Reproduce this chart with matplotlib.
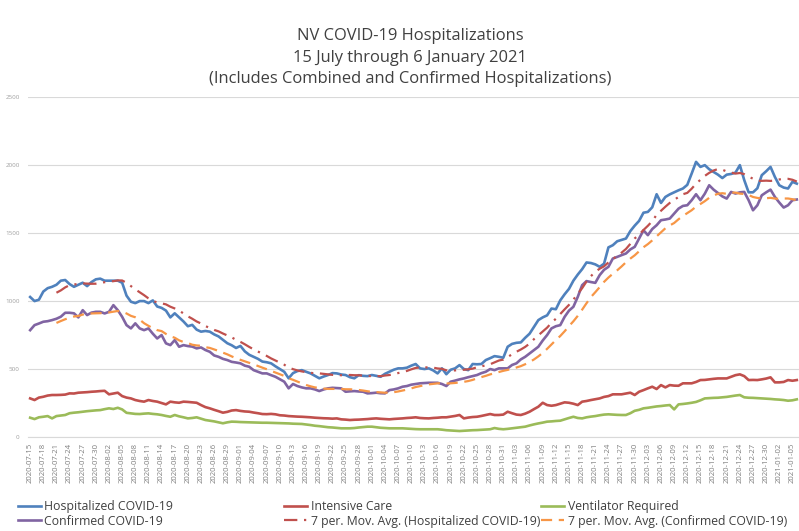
import matplotlib
matplotlib.use("Agg")
import matplotlib.pyplot as plt
import pandas as pd

dates = pd.date_range("2020-07-15", "2021-01-06", freq="D")

hospitalized = [1030, 1000, 1010, 1070, 1095, 1105, 1120, 1150, 1155, 1125,
                1105, 1120, 1135, 1110, 1140, 1160, 1165, 1150, 1150, 1150,
                1150, 1135, 1040, 995, 985, 1000, 1000, 985, 1005, 960,
                950, 930, 880, 910, 880, 850, 815, 825, 790, 775,
                780, 775, 755, 740, 715, 690, 675, 655, 670, 630,
                605, 590, 575, 555, 550, 542, 520, 500, 480, 432,
                470, 485, 492, 480, 468, 450, 432, 445, 456, 470,
                468, 460, 456, 440, 432, 455, 450, 448, 456, 450,
                443, 465, 480, 495, 505, 505, 510, 525, 537, 505,
                500, 505, 490, 468, 505, 462, 495, 505, 529, 500,
                492, 537, 535, 537, 566, 580, 595, 590, 583, 664,
                685, 693, 696, 730, 760, 810, 860, 880, 895, 945,
                940, 1005, 1050, 1090, 1150, 1195, 1235, 1284, 1280, 1270,
                1252, 1275, 1395, 1411, 1440, 1450, 1460, 1515, 1555, 1590,
                1650, 1656, 1690, 1786, 1722, 1766, 1785, 1800, 1815, 1828,
                1855, 1938, 2024, 1987, 2000, 1970, 1950, 1930, 1905, 1930,
                1935, 1945, 2000, 1890, 1800, 1800, 1830, 1926, 1955, 1987,
                1913, 1852, 1835, 1828, 1877, 1864]

confirmed = [786, 823, 835, 848, 852, 860, 870, 885, 914, 914,
             910, 880, 933, 897, 915, 921, 921, 909, 921, 970,
             933, 884, 823, 799, 836, 799, 786, 799, 760, 725,
             750, 689, 676, 713, 664, 676, 669, 665, 652, 659,
             640, 627, 600, 590, 575, 566, 553, 548, 542, 525,
             517, 492, 480, 468, 468, 455, 443, 425, 407, 358,
             390, 375, 365, 358, 358, 350, 338, 350, 358, 362,
             360, 358, 333, 336, 338, 335, 333, 321, 323, 326,
             322, 321, 345, 350, 358, 370, 375, 385, 390, 395,
             397, 399, 399, 399, 390, 375, 407, 415, 424, 431,
             440, 448, 456, 470, 480, 500, 492, 505, 505, 505,
             530, 542, 571, 590, 615, 640, 664, 710, 750, 799,
             815, 823, 884, 930, 958, 1031, 1117, 1147, 1140, 1134,
             1191, 1230, 1252, 1313, 1325, 1338, 1350, 1380, 1399, 1460,
             1521, 1485, 1530, 1558, 1595, 1600, 1607, 1644, 1680, 1700,
             1705, 1742, 1786, 1742, 1790, 1852, 1820, 1795, 1770, 1754,
             1803, 1791, 1800, 1803, 1742, 1668, 1705, 1778, 1800, 1820,
             1766, 1725, 1688, 1705, 1742, 1747]

intensive_care = [284, 272, 290, 296, 305, 309, 309, 310, 312, 321,
                  320, 326, 328, 330, 333, 335, 338, 340, 314, 320,
                  326, 301, 290, 284, 272, 265, 260, 272, 265, 260,
                  250, 240, 260, 255, 252, 260, 258, 255, 252, 235,
                  220, 211, 200, 190, 179, 185, 195, 198, 192, 188,
                  186, 180, 175, 169, 168, 170, 167, 160, 158, 154,
                  152, 150, 149, 147, 145, 142, 140, 138, 137, 135,
                  137, 130, 128, 125, 127, 128, 130, 132, 135, 137,
                  134, 132, 130, 133, 135, 137, 140, 142, 145, 140,
                  138, 137, 140, 142, 145, 145, 150, 155, 162, 137,
                  143, 147, 149, 155, 162, 169, 162, 162, 165, 186,
                  175, 165, 162, 172, 186, 205, 223, 252, 235, 230,
                  235, 245, 255, 252, 245, 235, 260, 265, 272, 278,
                  284, 295, 301, 314, 314, 314, 320, 326, 309, 333,
                  345, 358, 370, 353, 382, 365, 382, 378, 377, 395,
                  395, 395, 405, 419, 420, 424, 428, 431, 431, 431,
                  443, 455, 461, 448, 419, 420, 419, 424, 430, 439,
                  402, 402, 405, 419, 414, 419]

ventilator = [142, 132, 145, 149, 154, 137, 154, 158, 162, 175,
              179, 182, 186, 190, 193, 196, 198, 205, 211, 206,
              215, 203, 178, 174, 170, 169, 172, 174, 170, 167,
              162, 155, 149, 162, 152, 145, 137, 140, 145, 135,
              125, 120, 115, 108, 101, 108, 113, 112, 110, 109,
              108, 107, 106, 105, 105, 104, 103, 102, 101, 100,
              98, 97, 96, 92, 88, 83, 80, 76, 72, 70,
              67, 64, 64, 64, 66, 70, 73, 76, 76, 72,
              68, 66, 64, 64, 64, 64, 62, 60, 58, 57,
              57, 57, 57, 57, 54, 50, 48, 46, 44, 46,
              48, 50, 51, 53, 55, 57, 66, 60, 57, 60,
              64, 68, 72, 76, 85, 93, 100, 106, 113, 115,
              118, 120, 130, 140, 149, 140, 137, 145, 150, 154,
              160, 165, 167, 165, 163, 162, 162, 175, 193, 200,
              211, 215, 220, 225, 228, 232, 235, 203, 240, 243,
              247, 252, 258, 270, 284, 286, 288, 289, 292, 295,
              300, 305, 309, 292, 289, 288, 286, 284, 282, 280,
              277, 275, 272, 267, 270, 277]

df = pd.DataFrame({"hosp": hospitalized, "conf": confirmed,
                   "icu": intensive_care, "vent": ventilator}, index=dates)
df["hosp_ma"] = df["hosp"].rolling(7).mean()
df["conf_ma"] = df["conf"].rolling(7).mean()

x = range(len(df))
tick_pos = list(range(0, len(df), 3))
tick_labels = [dates[i].strftime("%Y-%m-%d") for i in tick_pos]

plt.rcParams["font.family"] = ["Open Sans", "DejaVu Sans"]
fig = plt.figure(figsize=(7.99, 5.31), dpi=100)
ax = fig.add_axes([0.035, 0.177, 0.965, 0.640])

lw = 1.9
h_hosp, = ax.plot(x, df["hosp"], color="#4F81BD", lw=lw)
h_conf, = ax.plot(x, df["conf"], color="#8064A2", lw=lw)
h_icu, = ax.plot(x, df["icu"], color="#C0504D", lw=lw)
h_hma, = ax.plot(x, df["hosp_ma"], color="#C0504D", lw=1.6, ls=(0, (6, 3, 1, 3)))
h_vent, = ax.plot(x, df["vent"], color="#9BBB59", lw=lw)
h_cma, = ax.plot(x, df["conf_ma"], color="#F79646", lw=1.6, ls=(0, (5, 3)))

ax.set_xlim(-0.5, len(df) - 0.5)
ax.set_ylim(0, 2500)
ax.set_yticks([0, 500, 1000, 1500, 2000, 2500])
ax.set_xticks(tick_pos)
ax.set_xticklabels(tick_labels, rotation=90, fontsize=5.6, color="#7F7F7F")
ax.tick_params(axis="y", labelsize=4.5, labelcolor="#A0A0A0", length=0, pad=6)
ax.tick_params(axis="x", length=0, pad=4)
ax.grid(axis="y", color="#D9D9D9", lw=0.8)
ax.set_axisbelow(True)
for s in ["top", "right", "left"]:
    ax.spines[s].set_visible(False)
ax.spines["bottom"].set_color("#D9D9D9")

title_lines = ["NV COVID-19 Hospitalizations",
               "15 July through 6 January 2021",
               "(Includes Combined and Confirmed Hospitalizations)"]
for i, t in enumerate(title_lines):
    fig.text(0.513, 0.932 - i * 0.0405, t, ha="center", va="center",
             fontsize=11.9, color="#404040")

leg_groups = [([h_hosp, h_conf], ["Hospitalized COVID-19", "Confirmed COVID-19"], 0.022),
              ([h_icu, h_hma], ["Intensive Care", "7 per. Mov. Avg. (Hospitalized COVID-19)"], 0.355),
              ([h_vent, h_cma], ["Ventilator Required", "7 per. Mov. Avg. (Confirmed COVID-19)"], 0.677)]
for handles, labels, xpos in leg_groups:
    leg = fig.legend(handles, labels, loc="upper left", bbox_to_anchor=(xpos, 0.058),
                     frameon=False, fontsize=8.8, handlelength=1.9, handletextpad=0.3,
                     labelspacing=0.12, borderpad=0, borderaxespad=0,
                     labelcolor="#404040")

fig.savefig("out.png", dpi=100)
